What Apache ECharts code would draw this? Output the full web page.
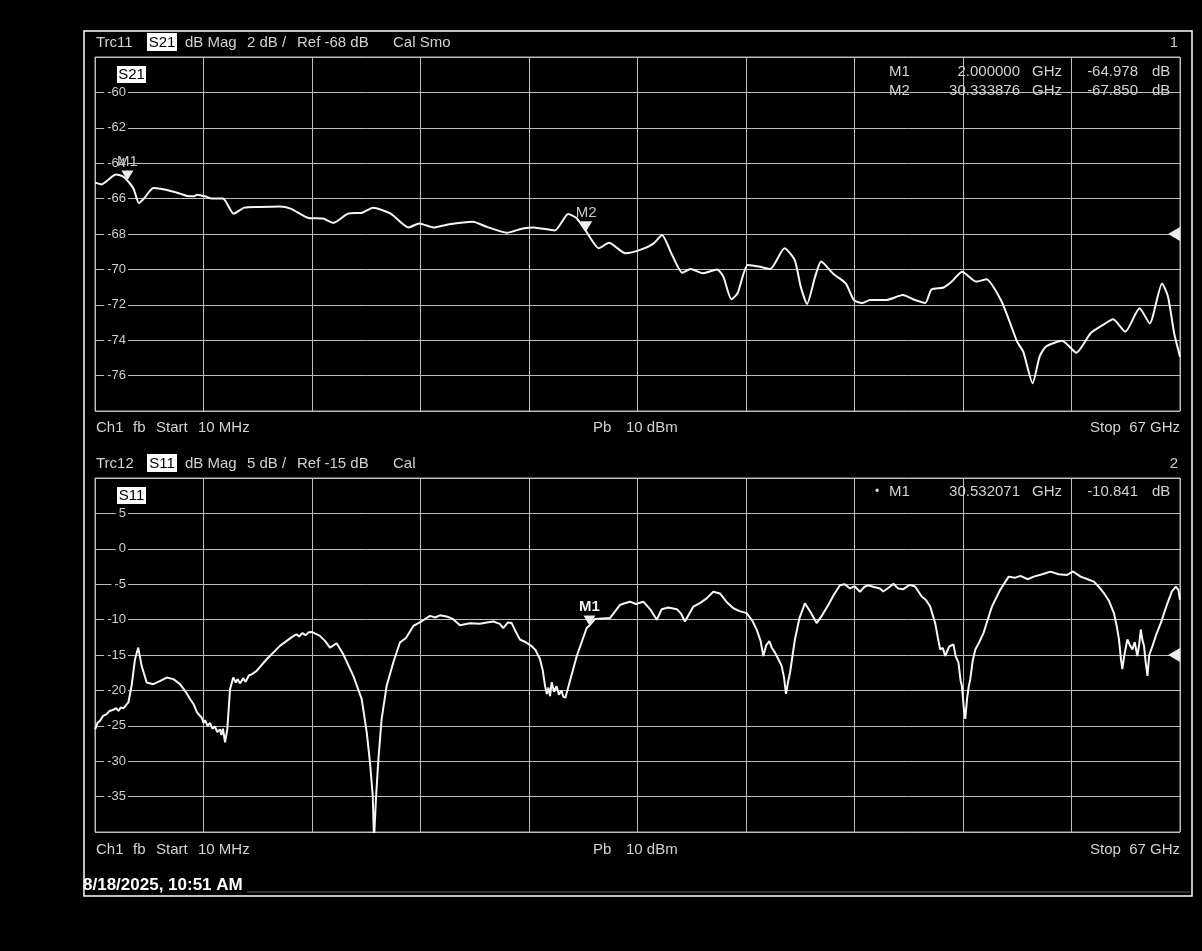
<!DOCTYPE html>
<html><head><meta charset="utf-8">
<script src="https://cdn.jsdelivr.net/npm/echarts@6/dist/echarts.min.js"></script>
<style>html,body{margin:0;padding:0;background:#000;}#c{width:1202px;height:951px;}</style>
</head><body><div id="c"></div>
<script>
// ---- S21 trace (GHz, dB) ----
const s21Freq = [0.01,0.4,0.8,1.28,1.72,2.0,2.38,2.71,3.04,3.6,4.37,5.25,5.7,6.13,6.3,6.79,7.22,7.9,8.56,9.22,10.1,11.42,12.08,13.19,14.07,14.73,15.62,16.5,17.16,18.26,19.36,20.02,20.9,21.79,23.33,24.21,25.43,26.42,27.08,28.4,29.22,29.73,30.33,31.11,31.74,32.75,33.75,34.51,35.01,35.64,36.27,36.78,37.54,38.42,38.8,39.3,39.68,40.31,41.06,41.69,42.58,43.21,43.58,43.97,44.47,44.84,45.6,46.36,46.86,47.36,47.87,48.87,49.88,50.64,51.27,51.65,52.41,52.91,53.54,54.42,55.05,55.94,56.44,56.94,57.32,57.9,58.33,58.71,59.72,60.6,61.48,62.24,62.87,63.62,64.5,65.13,65.89,66.26,66.64,67.0];
const s21Val = [-65.1,-65.2,-64.95,-64.64,-64.75,-64.978,-65.44,-66.25,-65.98,-65.4,-65.5,-65.72,-65.85,-65.87,-65.78,-65.87,-66.0,-66.0,-66.85,-66.51,-66.47,-66.44,-66.57,-67.1,-67.13,-67.37,-66.85,-66.8,-66.51,-66.85,-67.63,-67.4,-67.63,-67.46,-67.31,-67.6,-67.93,-67.69,-67.63,-67.8,-66.87,-67.1,-67.85,-68.81,-68.49,-69.09,-68.87,-68.53,-68.06,-69.19,-70.19,-69.98,-70.22,-70.0,-70.41,-71.69,-71.35,-69.75,-69.85,-69.98,-68.81,-69.47,-70.98,-71.95,-70.41,-69.56,-70.26,-70.79,-71.73,-71.9,-71.73,-71.73,-71.45,-71.73,-71.9,-71.13,-71.02,-70.69,-70.13,-70.69,-70.56,-71.73,-72.86,-74.08,-74.65,-76.43,-74.93,-74.37,-74.03,-74.71,-73.61,-73.14,-72.82,-73.52,-72.2,-73.05,-70.79,-71.54,-73.61,-74.93];

// ---- S11 trace, [GHz, dB] pairs ----
const s11Trace = [[0.01,-25.5],[0.15,-24.6],[0.31,-24.3],[0.5,-23.6],[0.72,-23.35],[0.9,-22.9],[1.13,-22.74],[1.3,-22.5],[1.45,-22.9],[1.6,-22.4],[1.75,-22.55],[2.06,-21.7],[2.26,-19.35],[2.47,-15.6],[2.67,-13.95],[2.88,-16.53],[3.19,-18.88],[3.6,-19.12],[4.0,-18.7],[4.43,-18.18],[4.84,-18.41],[5.25,-19.12],[5.6,-20.2],[5.87,-21.23],[6.1,-22.0],[6.3,-23.1],[6.48,-23.58],[6.6,-23.9],[6.7,-24.6],[6.8,-24.2],[6.95,-25.0],[7.1,-24.6],[7.25,-25.4],[7.4,-25.1],[7.55,-25.9],[7.72,-25.5],[7.8,-26.3],[7.9,-25.4],[8.03,-27.35],[8.17,-25.47],[8.34,-19.82],[8.54,-18.18],[8.7,-18.9],[8.8,-18.4],[8.95,-19.0],[9.16,-18.3],[9.3,-18.8],[9.5,-17.9],[9.7,-17.7],[9.98,-17.24],[10.6,-15.6],[11.42,-13.71],[11.9,-12.9],[12.2,-12.4],[12.45,-12.07],[12.6,-12.4],[12.8,-11.9],[13.0,-12.2],[13.2,-11.8],[13.38,-11.74],[13.89,-12.3],[14.2,-13.0],[14.51,-13.95],[14.92,-13.34],[15.33,-14.89],[15.95,-17.94],[16.47,-21.23],[16.78,-25.94],[16.98,-30.17],[17.15,-34.87],[17.23,-41],[17.3,-41],[17.35,-35.3],[17.5,-29.7],[17.7,-24.05],[18.01,-19.35],[18.42,-16.06],[18.83,-13.24],[19.2,-12.6],[19.66,-10.89],[20.2,-10.2],[20.69,-9.48],[21.0,-9.7],[21.3,-9.4],[21.72,-9.57],[22.1,-9.9],[22.54,-10.8],[23.16,-10.52],[23.77,-10.6],[24.2,-10.4],[24.6,-10.26],[25.0,-10.6],[25.21,-11.19],[25.5,-10.4],[25.73,-10.49],[26.0,-11.8],[26.24,-12.81],[26.6,-13.2],[26.96,-13.74],[27.2,-14.3],[27.48,-15.6],[27.65,-17.2],[27.79,-19.33],[27.9,-20.5],[28.0,-19.6],[28.1,-20.8],[28.2,-18.86],[28.35,-20.2],[28.5,-19.4],[28.65,-20.6],[28.8,-20.0],[28.92,-20.9],[29.05,-21.0],[29.75,-15.14],[30.36,-11.19],[30.53,-10.841],[30.87,-9.9],[31.8,-9.79],[32.42,-7.93],[32.7,-7.7],[33.04,-7.47],[33.4,-7.8],[33.86,-7.47],[34.3,-8.6],[34.69,-10.02],[35.0,-8.53],[35.4,-8.3],[35.93,-8.53],[36.2,-9.2],[36.43,-10.26],[36.95,-8.16],[37.4,-7.6],[37.77,-7.0],[38.18,-6.07],[38.59,-6.3],[39.0,-7.5],[39.42,-8.4],[39.8,-8.8],[40.24,-9.09],[40.6,-10.2],[40.86,-11.42],[41.1,-13.0],[41.27,-15.14],[41.45,-13.6],[41.64,-13.05],[41.8,-14.0],[41.99,-14.67],[42.2,-15.6],[42.4,-16.53],[42.55,-18.2],[42.67,-20.49],[42.8,-18.8],[42.92,-17.47],[43.22,-12.81],[43.5,-9.8],[43.84,-7.7],[44.2,-9.0],[44.56,-10.49],[44.9,-9.4],[45.28,-7.93],[45.6,-6.6],[46.0,-5.14],[46.3,-5.0],[46.62,-5.6],[46.9,-5.3],[47.24,-6.07],[47.5,-5.4],[47.75,-5.14],[48.1,-5.4],[48.47,-5.6],[48.68,-6.03],[49.0,-5.5],[49.3,-4.95],[49.6,-5.6],[49.92,-5.7],[50.3,-5.1],[50.64,-5.33],[51.05,-6.73],[51.3,-7.2],[51.57,-8.13],[51.88,-10.47],[52.05,-12.6],[52.19,-14.21],[52.35,-14.0],[52.5,-15.14],[52.75,-13.8],[53.01,-13.5],[53.15,-15.2],[53.32,-16.07],[53.45,-18.6],[53.53,-19.35],[53.65,-22.5],[53.74,-24.02],[53.85,-21.2],[53.95,-19.5],[54.05,-18.41],[54.2,-15.8],[54.36,-14.21],[54.6,-13.2],[54.87,-11.87],[55.1,-10.2],[55.39,-8.13],[55.9,-5.79],[56.42,-3.93],[56.8,-4.1],[57.14,-3.83],[57.6,-4.3],[57.97,-3.93],[58.5,-3.6],[59.0,-3.22],[59.5,-3.6],[60.03,-3.69],[60.4,-3.2],[60.86,-3.93],[61.3,-4.3],[61.68,-4.63],[62.0,-5.4],[62.3,-6.26],[62.6,-7.3],[62.92,-9.07],[63.1,-11.0],[63.23,-12.8],[63.35,-15.5],[63.44,-17.01],[63.55,-15.2],[63.75,-12.8],[63.9,-13.6],[64.06,-14.21],[64.2,-13.2],[64.37,-15.14],[64.48,-13.5],[64.58,-11.4],[64.68,-12.9],[64.78,-13.74],[64.88,-16.0],[64.99,-17.94],[65.1,-15.0],[65.3,-13.74],[65.55,-12.0],[65.82,-10.47],[66.0,-9.2],[66.23,-7.66],[66.5,-6.0],[66.74,-5.33],[66.9,-5.8],[67.0,-7.2]];

// ---- markers ----
const s21MarkerNames = ['M1','M2'];
const s21MarkerFreq = [2.0, 30.333876];
const s21MarkerVal = [-64.978, -67.850];
const s11MarkerNames = ['M1'];
const s11MarkerFreq = [30.532071];
const s11MarkerVal = [-10.841];
const s21Ref = -68;
const s11Ref = -15;

// ---- axis scales ----
const freqStart = 0, freqStop = 67, freqDiv = 6.7;
const s21Min = -78, s21Max = -58, s21Div = 2;
const s11Min = -40, s11Max = 10, s11Div = 5;

const zip = (a,b) => a.map((v,i)=>[v,b[i]]);

const FONT = 'Liberation Sans, Arial, sans-serif';
const TXT = '#d2d2d2';
const GRIDC = '#bdbdbd';

function txt(x,y,text,opts){
  opts = opts||{};
  return {type:'text', silent:true, z:opts.z||10, style:{
    text:text, x:x, y:y+1, fill:opts.fill||TXT,
    font:(opts.weight||'normal')+' '+(opts.size||15)+'px '+FONT,
    textAlign:opts.align||'left', align:opts.align||'left',
    textVerticalAlign:'middle', verticalAlign:'middle'}};
}
function box(x,y,w,h,label){
  return [
    {type:'rect', silent:true, z:9, shape:{x:x,y:y,width:w,height:h}, style:{fill:'#ffffff'}},
    txt(x+w/2, y+h/2-0.5, label, {fill:'#000', align:'center'})
  ];
}

function xAxisCfg(idx){
  return {gridIndex:idx, type:'value', min:freqStart, max:freqStop, interval:freqDiv,
    axisLabel:{show:false}, axisTick:{show:false}, axisLine:{show:false},
    splitLine:{show:true, lineStyle:{color:GRIDC, width:1}}};
}
function yAxisCfg(idx,mn,mx,iv){
  return {gridIndex:idx, type:'value', min:mn, max:mx, interval:iv,
    axisTick:{show:false}, axisLine:{show:false},
    splitLine:{show:true, lineStyle:{color:GRIDC, width:1}},
    axisLabel:{inside:true, align:'right', margin:33, color:'#cfcfcf', fontSize:13, fontFamily:FONT,
      backgroundColor:'#000', padding:[0,2,0,3], showMinLabel:false, showMaxLabel:false}};
}

function markerPoints(names,fr,vals,refVal,bold){
  const pts = names.map((n,i)=>({
    coord:[fr[i], vals[i]], symbol:'triangle', symbolRotate:180, symbolSize:[12,10], symbolOffset:[0,-5],
    itemStyle:{color:'#ececec'},
    label:{show:true, position:'top', distance:1, formatter:n, color: bold?'#f0f0f0':'#c8c8c8',
      fontSize:15, fontWeight: bold?'bold':'normal', fontFamily:FONT}
  }));
  pts.push({coord:[freqStop, refVal], symbol:'triangle', symbolRotate:90, symbolSize:[14,12], symbolOffset:[-6,0],
    itemStyle:{color:'#ececec'}, label:{show:false}});
  return {silent:true, animation:false, data:pts};
}

const graphics = [
  {type:'rect', silent:true, z:1, shape:{x:84,y:31,width:1108,height:865}, style:{fill:'none', stroke:'#ffffff', lineWidth:1.5}},
  {type:'line', silent:true, z:1, shape:{x1:247,y1:892,x2:1190,y2:892}, style:{stroke:'#5a5a5a', lineWidth:1}},
  // top header
  txt(96,42,'Trc11'), ...box(147,33,30,18,'S21'), txt(185,42,'dB Mag'), txt(247,42,'2 dB /'), txt(297,42,'Ref -68 dB'), txt(393,42,'Cal Smo'),
  txt(1178,42,'1',{align:'right'}),
  ...box(117,66,29,17,'S21'),
  txt(889,71,'M1'), txt(1020,71,'2.000000',{align:'right'}), txt(1032,71,'GHz'), txt(1138,71,'-64.978',{align:'right'}), txt(1152,71,'dB'),
  txt(889,90,'M2'), txt(1020,90,'30.333876',{align:'right'}), txt(1032,90,'GHz'), txt(1138,90,'-67.850',{align:'right'}), txt(1152,90,'dB'),
  txt(96,427,'Ch1'), txt(133,427,'fb'), txt(156,427,'Start'), txt(198,427,'10 MHz'),
  txt(593,427,'Pb'), txt(626,427,'10 dBm'), txt(1180,427,'Stop  67 GHz',{align:'right'}),
  // bottom header
  txt(96,463,'Trc12'), ...box(147,454,30,18,'S11'), txt(185,463,'dB Mag'), txt(247,463,'5 dB /'), txt(297,463,'Ref -15 dB'), txt(393,463,'Cal'),
  txt(1178,463,'2',{align:'right'}),
  ...box(117,487,29,17,'S11'),
  txt(875,491,'•',{size:12}), txt(889,491,'M1'), txt(1020,491,'30.532071',{align:'right'}), txt(1032,491,'GHz'), txt(1138,491,'-10.841',{align:'right'}), txt(1152,491,'dB'),
  txt(96,849,'Ch1'), txt(133,849,'fb'), txt(156,849,'Start'), txt(198,849,'10 MHz'),
  txt(593,849,'Pb'), txt(626,849,'10 dBm'), txt(1180,849,'Stop  67 GHz',{align:'right'}),
  txt(83,884,'8/18/2025, 10:51 AM',{fill:'#ffffff', weight:'bold', size:17})
];

const chart = echarts.init(document.getElementById('c'), null, {renderer:'canvas'});
chart.setOption({
  backgroundColor:'#000',
  animation:false,
  grid:[
    {left:95, top:57, width:1085, height:354, show:true, borderColor:GRIDC, borderWidth:1, backgroundColor:'transparent'},
    {left:95, top:478, width:1085, height:354, show:true, borderColor:GRIDC, borderWidth:1, backgroundColor:'transparent'}
  ],
  xAxis:[xAxisCfg(0), xAxisCfg(1)],
  yAxis:[yAxisCfg(0,s21Min,s21Max,s21Div), yAxisCfg(1,s11Min,s11Max,s11Div)],
  series:[
    {type:'line', xAxisIndex:0, yAxisIndex:0, data:zip(s21Freq,s21Val), symbol:'none', smooth:0.2,
      lineStyle:{color:'#f6f6f6', width:2}, clip:true, silent:true,
      markPoint:markerPoints(s21MarkerNames,s21MarkerFreq,s21MarkerVal,s21Ref,false)},
    {type:'line', xAxisIndex:1, yAxisIndex:1, data:s11Trace, symbol:'none',
      lineStyle:{color:'#f6f6f6', width:2}, clip:true, silent:true,
      markPoint:markerPoints(s11MarkerNames,s11MarkerFreq,s11MarkerVal,s11Ref,true)}
  ],
  graphic:graphics
});
</script></body></html>
